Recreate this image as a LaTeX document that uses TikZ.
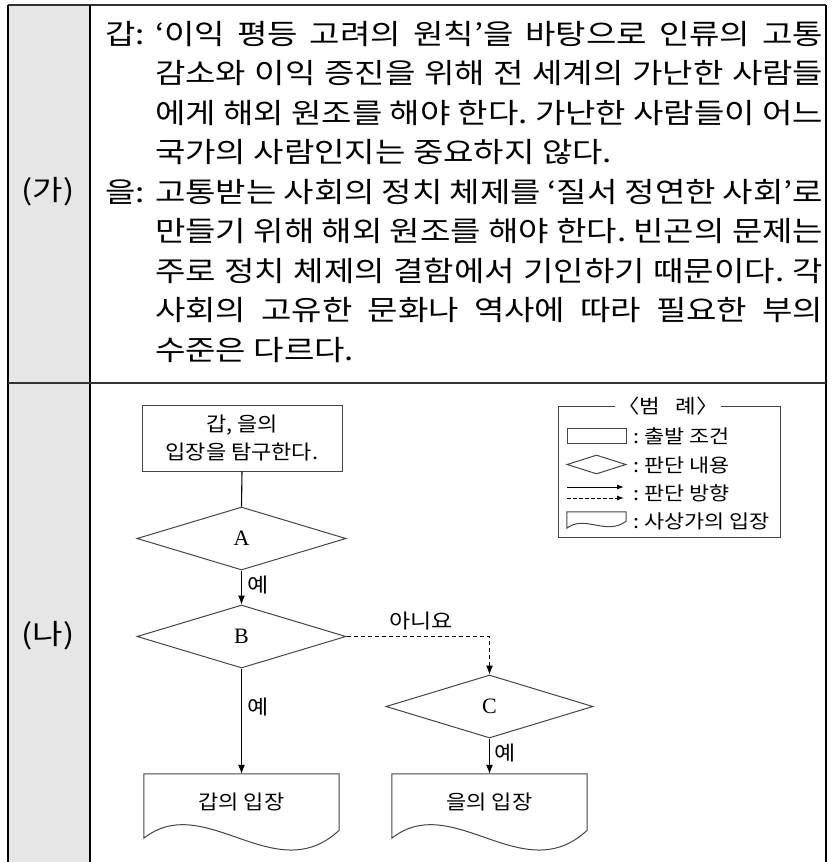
\documentclass[tikz,border=0pt]{standalone}
\usepackage{fontspec}
\setmainfont{Noto Sans CJK KR}
\newfontfamily\bodyfont{Noto Sans CJK KR}[FakeStretch=1.18]
\newfontfamily\diafont{Noto Sans CJK KR}[FakeStretch=1.1]
\newfontfamily\legfont{Noto Sans CJK KR}[FakeStretch=1.15]
\newfontfamily\latinserif{Liberation Serif}
\usetikzlibrary{shapes.geometric,arrows.meta,calc}
\definecolor{leftgray}{HTML}{E6E6E6}
\definecolor{shapegray}{HTML}{444444}
\frenchspacing
\begin{document}
\frenchspacing
\begin{tikzpicture}[x=1pt,y=-1pt,
  txt/.style={inner sep=0pt, font=\bodyfont\frenchspacing\fontsize{28}{30}\selectfont},
  frameline/.style={line width=1.4pt, black},
  divline/.style={line width=2pt, black!80},
  shapeline/.style={line width=1pt, draw=shapegray},
  boxs/.style={shapeline, rectangle, inner sep=0pt, align=center, font=\diafont\fontsize{20}{28}\selectfont},
  dia/.style={shapeline, diamond, inner sep=0pt, minimum width=209pt, minimum height=63pt, font=\latinserif\fontsize{22}{24}\selectfont},
  docnode/.style={rectangle, inner sep=0pt, minimum width=195pt, minimum height=56pt, font=\diafont\fontsize{20}{24}\selectfont},
  arr/.style={-{Latex[length=9pt,width=7pt]}, line width=1.1pt, black},
  larr/.style={-{Latex[length=7pt,width=5pt]}, line width=1pt, black},
  dsh/.style={dash pattern=on 4pt off 3pt},
  lbl/.style={inner sep=0pt, font=\legfont\fontsize{20}{22}\selectfont},
  legtxt/.style={inner sep=0pt, anchor=west, font=\legfont\fontsize{19}{22}\selectfont}
]
\useasboundingbox (0,0) rectangle (838,862);
% table frame
\fill[leftgray] (8,5) rectangle (90,862);
\draw[divline] (8,5) -- (826,5);
\draw[frameline] (8,5) -- (8,862);
\draw[frameline] (826,5) -- (826,862);
\draw[frameline] (90,5) -- (90,862);
\draw[divline] (8,383) -- (826,383);
% row labels
\node[txt] (ga) at (48,192) {(가)};
\node[txt] (na) at (48,636) {(나)};
% text of (ga)
\node[txt,anchor=west] (p1) at (105,34) {갑:};
\node[txt,anchor=west] (l1) at (155,34) {\makebox[668pt][s]{‘이익 평등 고려의 원칙’을 바탕으로 인류의 고통}};
\node[txt,anchor=west] (l2) at (155,73.5) {\makebox[668pt][s]{감소와 이익 증진을 위해 전 세계의 가난한 사람들}};
\node[txt,anchor=west] (l3) at (155,113) {\makebox[668pt][s]{에게 해외 원조를 해야 한다. 가난한 사람들이 어느}};
\node[txt,anchor=west] (l4) at (155,152.5) {국가의 사람인지는 중요하지 않다.};
\node[txt,anchor=west] (p2) at (105,192) {을:};
\node[txt,anchor=west] (l5) at (155,192) {\makebox[668pt][s]{고통받는 사회의 정치 체제를 ‘질서 정연한 사회’로}};
\node[txt,anchor=west] (l6) at (155,231.5) {\makebox[668pt][s]{만들기 위해 해외 원조를 해야 한다. 빈곤의 문제는}};
\node[txt,anchor=west] (l7) at (155,271) {\makebox[668pt][s]{주로 정치 체제의 결함에서 기인하기 때문이다. 각}};
\node[txt,anchor=west] (l8) at (155,310.5) {\makebox[668pt][s]{사회의 고유한 문화나 역사에 따라 필요한 부의}};
\node[txt,anchor=west] (l9) at (155,350) {수준은 다르다.};
% flowchart
\node[boxs, minimum width=200pt, minimum height=66pt] (start) at (242,438) {갑, 을의\\입장을 탐구한다.};
\node[dia] (A) at (241.5,538.5) {A};
\node[dia] (B) at (241.5,636.5) {B};
\node[dia, minimum width=207pt] (C) at (489.5,706.5) {C};
\node[docnode] (gap) at (241.5,802) {갑의 입장};
\node[docnode] (eul) at (489.5,802) {을의 입장};
\foreach \n in {gap,eul}{
  \draw[shapeline] (\n.north west) -- ($(\n.south west)+(0,8)$)
    .. controls ($(\n.south west)+(61,-40)$) and ($(\n.south east)+(-64,60)$) .. (\n.south east)
    -- (\n.north east) -- cycle;
}
\draw[line width=1.1pt] (start.south) -- (A.north);
\draw[arr] (A.south) -- (B.north);
\draw[arr] (B.south) -- (gap.north);
\coordinate (turn) at (C.north |- B.east);
\draw[arr,dsh] (B.east) -- (turn) -- (C.north);
\draw[arr] (C.south) -- (eul.north);
\node[lbl] (y1) at (258,585) {예};
\node[lbl] (y2) at (258,707) {예};
\node[lbl] (y3) at (505,753) {예};
\node[lbl] (no) at (421,621) {아니요};
% legend
\draw[shapeline] (558,406) rectangle (780,537);
\node[fill=white, inner xsep=2pt, inner ysep=0pt, font=\legfont\fontsize{19.5}{22}\selectfont] (legt) at (668,406) {〈범\ \ \ 례〉};
\node[shapeline, rectangle, inner sep=0pt, minimum width=59pt, minimum height=15pt] (lrect) at (596.5,435.5) {};
\node[shapeline, diamond, inner sep=0pt, minimum width=59pt, minimum height=19pt] (ldia) at (596.5,464.5) {};
\coordinate (la1) at (567,487);
\coordinate (lb1) at (624,487);
\coordinate (la2) at (567,498);
\coordinate (lb2) at (624,498);
\draw[larr] (la1) -- (lb1);
\draw[larr,dash pattern=on 4pt off 2pt] (la2) -- (lb2);
\node[rectangle, inner sep=0pt, minimum width=59pt, minimum height=9pt] (ldoc) at (596.5,516.5) {};
\draw[shapeline] (ldoc.north west) -- ($(ldoc.south west)+(0,7)$)
  .. controls ($(ldoc.south west)+(18,-7)$) and ($(ldoc.south east)+(-20,15)$) .. (ldoc.south east)
  -- (ldoc.north east) -- cycle;
\node[legtxt] (t1) at (633,436) {:\ 출발 조건};
\node[legtxt] (t2) at (633,465) {:\ 판단 내용};
\node[legtxt] (t3) at (633,493) {:\ 판단 방향};
\node[legtxt] (t4) at (633,521) {:\ 사상가의 입장};
\end{tikzpicture}
\end{document}
